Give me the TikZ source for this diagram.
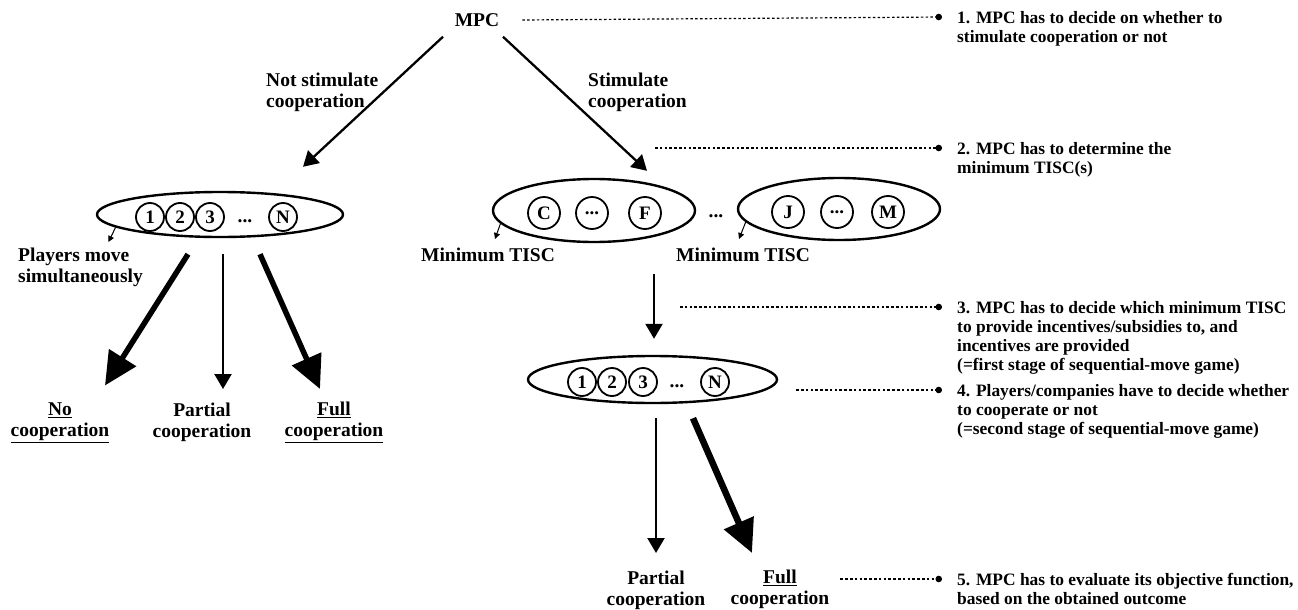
\documentclass[tikz,border=0pt]{standalone}
\usepackage{fontspec}
\setmainfont{Liberation Serif}
\usetikzlibrary{arrows.meta,shapes.geometric}
\begin{document}
\begin{tikzpicture}[x=1pt,y=-1pt,
 lab/.style={font=\bfseries\fontsize{19.5}{21}\selectfont,inner sep=0pt,align=center},
 note/.style={font=\bfseries\fontsize{17.4}{19}\selectfont,inner sep=0pt,align=left,anchor=north west},
 oval/.style={draw,ellipse,line width=2.4pt,inner sep=0pt},
 disk/.style={draw,circle,line width=1.8pt,inner sep=0pt,minimum size=#1,font=\bfseries\fontsize{19}{19}\selectfont},
 disk/.default=28pt,
 fatarrow/.style={line width=5.5pt,-{Triangle[length=33pt,width=31pt]}},
 midarrow/.style={line width=2.3pt,-{Triangle[length=15pt,width=17pt]}},
 tinyarrow/.style={line width=1pt,-{Triangle[length=6pt,width=6pt]}},
 guide/.style={line width=1.2pt,dash pattern=on 2.5pt off 2.3pt,-{Circle[length=6.5pt]}}]
 \useasboundingbox (0,0) rectangle (1298,610);
 \node[lab] (mpc) at (477,20) {MPC};
 \node[lab,align=left,anchor=west] (nsc) at (266,92) {Not stimulate\\cooperation};
 \node[lab,align=left,anchor=west] (sc) at (588,92) {Stimulate\\cooperation};
 % simultaneous game
 \node[oval,minimum width=246pt,minimum height=45pt] (le) at (220,214.5) {};
 \foreach \n/\x in {1/150,2/180,3/210,N/283}
  \node[disk] (l\n) at (\x,217) {\n};
 \node[lab] (ldots) at (245,221) {...};
 \node[lab,align=left,anchor=west] (pm) at (18,267) {Players move\\simultaneously};
 \node[lab] (no) at (60,422.5) {\underline{No}\\\underline{cooperation}};
 \node[lab] (pa) at (202,422.5) {Partial\\cooperation};
 \node[lab] (fu) at (334,422.5) {\underline{Full}\\\underline{cooperation}};
 % minimum TISCs
 \node[oval,minimum width=202pt,minimum height=63pt] (cf) at (594,210.5) {};
 \node[oval,minimum width=202pt,minimum height=62pt] (jm) at (839,209) {};
 \node[disk=32pt] (c) at (544,213) {C};
 \node[disk=32pt] (cfd) at (592,213) {...};
 \node[disk=32pt] (f) at (645,213) {F};
 \node[disk=32pt] (j) at (788,212) {J};
 \node[disk=32pt] (jmd) at (837,212) {...};
 \node[disk=32pt] (m) at (888,212) {M};
 \node[lab] (mid) at (716,216) {...};
 \node[lab] (mt1) at (488,255) {Minimum TISC};
 \node[lab] (mt2) at (743,255) {Minimum TISC};
 % sequential game
 \coordinate (sel) at (654,274);
 \node[oval,minimum width=249pt,minimum height=47pt] (be) at (652.5,379.5) {};
 \foreach \n/\x in {1/582,2/612,3/643,N/715}
  \node[disk] (b\n) at (\x,382) {\n};
 \node[lab] (bdots) at (677,386) {...};
 \node[lab] (pa2) at (656,590.5) {Partial\\cooperation};
 \node[lab] (fu2) at (780,590.5) {\underline{Full}\\\underline{cooperation}};
 % notes
 \node[note] (n1) at (957,11) {1. MPC has to decide on whether to\\stimulate cooperation or not};
 \node[note] (n2) at (957,142) {2. MPC has to determine the\\minimum TISC(s)};
 \node[note] (n3) at (957,301) {3. MPC has to decide which minimum TISC\\to provide incentives/subsidies to, and\\incentives are provided\\(=first stage of sequential-move game)};
 \node[note] (n4) at (957,384) {4. Players/companies have to decide whether\\to cooperate or not\\(=second stage of sequential-move game)};
 \node[note] (n5) at (957,573) {5. MPC has to evaluate its objective function,\\based on the obtained outcome};
 \coordinate (g2) at (655,148);
 \coordinate (g3) at (680,307);
 % arrows
 \draw[midarrow] ([shift={(-34,10)}]mpc.south) -- ([shift={(83,-24)}]le.north);
 \draw[midarrow] ([shift={(26,10)}]mpc.south) -- ([shift={(53,-7)}]cf.north);
 \draw[fatarrow] ([shift={(-32,16)}]le.south) -- ([shift={(45,-37)}]no.center);
 \draw[midarrow] ([shift={(3,16)}]le.south) -- ([shift={(21,-33.5)}]pa.center);
 \draw[fatarrow] ([shift={(40,16)}]le.south) -- ([shift={(-14,-33.5)}]fu.center);
 \draw[midarrow] (sel) -- ([shift={(1.5,-16)}]be.north);
 \draw[midarrow] ([shift={(3.5,14)}]be.south) -- ([shift={(0,-37.5)}]pa2.center);
 \draw[fatarrow,line width=6.5pt] ([shift={(40.5,14)}]be.south) -- ([shift={(-28,-37.5)}]fu2.center);
 \draw[tinyarrow] (le.187) -- ([shift={(28,-25)}]pm.center);
 \draw[tinyarrow] (cf.188) -- ([shift={(7,-16)}]mt1.center);
 \draw[tinyarrow] (jm.188) -- ([shift={(-4,-16)}]mt2.center);
 \draw[guide] ([xshift=23pt]mpc.east) -- ([shift={(-15,6)}]n1.north west);
 \draw[guide] (g2) -- ([shift={(-15,6)}]n2.north west);
 \draw[guide] (g3) -- ([shift={(-15,6)}]n3.north west);
 \draw[guide] ([shift={(18,10.5)}]be.east) -- ([shift={(-15,6)}]n4.north west);
 \draw[guide] ([shift={(11,-11.5)}]fu2.east) -- ([shift={(-15,6)}]n5.north west);
\end{tikzpicture}
\end{document}
